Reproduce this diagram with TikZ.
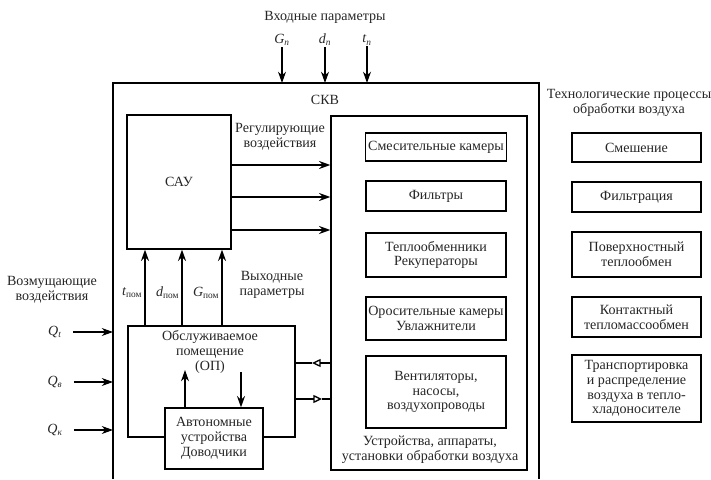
\documentclass[tikz,border=0pt]{standalone}
\usepackage{fontspec}
\setmainfont{Liberation Serif}
\usepackage{tikz}
\usetikzlibrary{arrows.meta,positioning,calc}
\newcommand{\param}[2]{\textit{#1}\textsubscript{#2}}
\tikzset{
  ln/.style={line width=1.1pt},
  blk/.style={rectangle, draw=black, ln, fill=white, align=center, inner sep=2pt},
  dev/.style={blk, minimum width=4.2cm},
  proc/.style={blk, minimum width=3.87cm},
  lbl/.style={align=center, inner sep=1pt},
  arr/.style={-{Stealth[length=3.4mm, width=2.4mm]}, ln},
  oarr/.style={-{Triangle[open, length=2.6mm, width=2.4mm]}, ln},
}

\begin{document}
\begin{tikzpicture}[font=\fontsize{12}{12.6}\selectfont, text=black!85]
\useasboundingbox (0,0) rectangle (21.33,14.37);
% outer system box (open at the bottom)
\draw[ln] (3.39,0) coordinate (skvbl) |- (16.17,11.88) coordinate (skvtr) -- (16.17,0);
\node[lbl] (skv) at (9.75,11.37) {СКВ};
% input parameters
\node[lbl] (vhod) at (9.75,13.86) {Входные параметры};
\node[lbl] (gp) at (8.46,13.17) {\param{G}{\textit{п}}};
\node[lbl] (dp) at (9.75,13.17) {\param{d}{\textit{п}}};
\node[lbl] (tp) at (11.01,13.17) {\param{t}{\textit{п}}};
\foreach \n in {gp,dp,tp}
  \draw[arr] (\n.south) -- (\n |- skvtr);
% control unit
\node[blk, minimum width=3.12cm, minimum height=4.02cm] (sau) at (5.37,8.91) {САУ};
\node[lbl] (reg) at (8.40,10.26) {Регулирующие\\воздействия};
% devices
\node[blk, minimum width=5.88cm, minimum height=10.62cm] (ust) at (12.87,5.58) {};
\node[dev, minimum height=0.84cm] (smk) at (13.08,9.96) {Смесительные камеры};
\node[dev, minimum height=0.9cm] (flt) at (13.08,8.49) {Фильтры};
\node[dev, minimum height=1.32cm] (tob) at (13.08,6.72) {Теплообменники\\Рекуператоры};
\node[dev, minimum height=1.29cm] (orc) at (13.08,4.815) {Оросительные камеры\\Увлажнители};
\node[dev, minimum height=2.16cm] (vnt) at (13.08,2.61) {Вентиляторы,\\насосы,\\воздухопроводы};
\node[lbl] (ustl) at (12.90,0.87) {Устройства, аппараты,\\установки обработки воздуха};
\foreach \y in {9.42,8.46,7.47}
  \draw[arr] (sau.east |- 0,\y) -- (ust.west |- 0,\y);
% processes
\node[lbl] (tech) at (18.87,11.28) {Технологические процессы\\обработки воздуха};
\node[proc, minimum height=0.87cm] (smsh) at (19.095,9.945) {Смешение};
\node[proc, minimum height=0.9cm] (filtr) at (19.095,8.46) {Фильтрация};
\node[proc, minimum height=1.35cm] (pov) at (19.095,6.735) {Поверхностный\\теплообмен};
\node[proc, minimum height=1.2cm] (kont) at (19.095,4.86) {Контактный\\тепломассообмен};
\node[proc, minimum height=2.01cm] (transp) at (19.095,2.715) {Транспортировка\\и распределение\\воздуха в тепло-\\хладоносителе};
% served room
\node[blk, minimum width=5.01cm, minimum height=3.33cm] (op) at (6.345,2.925) {};
\node[lbl] (opl) at (6.30,3.81) {Обслуживаемое\\помещение\\(ОП)};
\node[blk, minimum width=2.94cm, minimum height=1.83cm] (avt) at (6.42,1.215) {Автономные\\устройства\\Доводчики};
\coordinate (opup) at (5.55,3.27);
\coordinate (opdn) at (7.23,3.21);
\draw[arr] (avt.north -| opup) -- (opup);
\draw[arr] (opdn) -- (avt.north -| opdn);
% output parameters
\foreach \x/\s/\nm in {4.35/t/tpom, 5.46/d/dpom, 6.66/G/gpom} {
  \draw[arr] (op.north -| \x,0) -- (sau.south -| \x,0);
  \node[lbl, anchor=east] (\nm) at (\x-0.04,5.58) {\param{\s}{пом}};
}
\node[lbl] (vyh) at (8.16,5.82) {Выходные\\параметры};
% disturbances
\node[lbl] (voz) at (1.56,5.67) {Возмущающие\\воздействия};
\node[lbl] (qt) at (1.65,4.41) {\param{Q}{\textit{t}}};
\node[lbl] (qv) at (1.65,2.91) {\param{Q}{\textit{в}}};
\node[lbl] (qk) at (1.65,1.47) {\param{Q}{\textit{к}}};
\foreach \n in {qt,qv,qk}
  \draw[arr, shorten <=0.3cm] (\n.east) -- (skvbl |- \n);
% links between devices and room
\coordinate (m1) at (9.36,3.48);
\coordinate (m2) at (9.66,2.40);
\draw[oarr] (ust.west |- m1) -- (m1);
\draw[ln] (m1) -- (op.east |- m1);
\draw[oarr] (op.east |- m2) -- (m2);
\draw[ln] (m2) -- (ust.west |- m2);
\end{tikzpicture}
\end{document}
